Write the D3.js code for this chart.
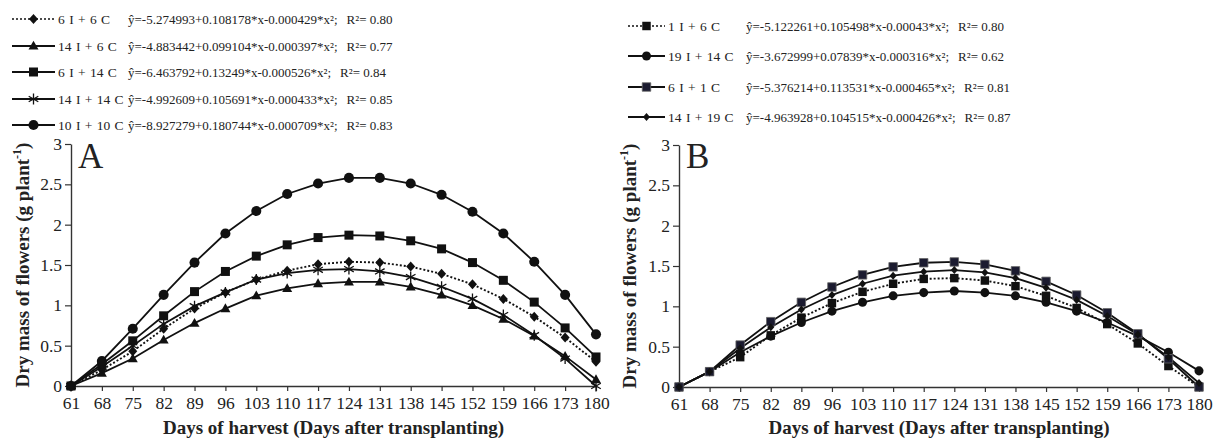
<!DOCTYPE html>
<html><head><meta charset="utf-8">
<script src="https://cdn.jsdelivr.net/npm/d3@7"></script>
<style>
html,body{margin:0;padding:0;background:#fff;}
svg{display:block;font-family:"Liberation Serif","Times New Roman",serif;}
</style></head>
<body>
<svg id="chart" width="1213" height="441"></svg>
<script>
// ---- data ----
const days = [61,68,75,82,89,96,103,110,117,124,131,138,145,152,159,166,173,180];
const yTicks = [0,0.5,1,1.5,2,2.5,3];
const yTickLabels = ["0","0.5","1","1.5","2","2.5","3"];

// Panel A
const seriesANames = ["6 I + 6 C","14 I + 6 C","6 I + 14 C","14 I + 14 C","10 I + 10 C"];
const seriesAEq = [
  "ŷ=-5.274993+0.108178*x-0.000429*x²;",
  "ŷ=-4.883442+0.099104*x-0.000397*x²;",
  "ŷ=-6.463792+0.13249*x-0.000526*x²;",
  "ŷ=-4.992609+0.105691*x-0.000433*x²;",
  "ŷ=-8.927279+0.180744*x-0.000709*x²;"
];
const seriesAR2 = ["R²= 0.80","R²= 0.77","R²= 0.84","R²= 0.85","R²= 0.83"];
const a_6I6C   = [0,0.20,0.43,0.71,0.96,1.16,1.32,1.43,1.51,1.54,1.53,1.48,1.39,1.26,1.08,0.86,0.60,0.30];
const a_14I6C  = [0,0.16,0.34,0.57,0.78,0.96,1.12,1.21,1.27,1.29,1.29,1.23,1.13,1.00,0.83,0.62,0.37,0.08];
const a_6I14C  = [0,0.27,0.56,0.87,1.17,1.42,1.61,1.75,1.84,1.87,1.86,1.80,1.70,1.53,1.31,1.04,0.72,0.36];
const a_14I14C = [0,0.24,0.50,0.77,0.99,1.16,1.32,1.40,1.44,1.45,1.42,1.35,1.23,1.08,0.88,0.63,0.34,0.00];
const a_10I10C = [0,0.31,0.71,1.13,1.53,1.89,2.17,2.38,2.51,2.58,2.58,2.51,2.37,2.16,1.89,1.54,1.13,0.64];

// Panel B
const seriesBNames = ["1 I + 6 C","19 I + 14 C","6 I + 1 C","14 I + 19 C"];
const seriesBEq = [
  "ŷ=-5.122261+0.105498*x-0.00043*x²;",
  "ŷ=-3.672999+0.07839*x-0.000316*x²;",
  "ŷ=-5.376214+0.113531*x-0.000465*x²;",
  "ŷ=-4.963928+0.104515*x-0.000426*x²;"
];
const seriesBR2 = ["R²= 0.80","R²= 0.62","R²= 0.81","R²= 0.87"];
const b_1I6C   = [0,0.19,0.37,0.64,0.86,1.04,1.18,1.28,1.34,1.35,1.32,1.25,1.13,0.98,0.78,0.54,0.26,0.00];
const b_19I14C = [0,0.19,0.43,0.63,0.80,0.94,1.05,1.13,1.17,1.19,1.17,1.13,1.05,0.94,0.80,0.63,0.43,0.20];
const b_6I1C   = [0,0.19,0.52,0.81,1.05,1.24,1.39,1.49,1.54,1.55,1.52,1.44,1.31,1.14,0.92,0.66,0.35,0.00];
const b_14I19C = [0,0.19,0.48,0.74,0.96,1.14,1.28,1.38,1.43,1.45,1.42,1.35,1.23,1.08,0.88,0.65,0.37,0.05];

const xTitle = "Days of harvest (Days after transplanting)";

// ---- drawing ----
const svg = d3.select("#chart");
const ink = "#111";

function markerPath(type){
  switch(type){
    case "circle": return d3.symbol(d3.symbolCircle, 80)();
    case "circleS": return d3.symbol(d3.symbolCircle, 64)();
    case "square": return d3.symbol(d3.symbolSquare, 81)();
    case "squareS": return d3.symbol(d3.symbolSquare, 72)();
    case "triangle": return "M0,-5.2L5,3.6L-5,3.6Z";
    case "diamond": return "M0,-5L4.5,0L0,5L-4.5,0Z";
    case "diamondS": return "M0,-4L3.5,0L0,4L-3.5,0Z";
    case "star": return "M0,-5.5L0,5.5M-4.8,-2.8L4.8,2.8M-4.8,2.8L4.8,-2.8";
  }
}
function drawMarker(g, type, x, y, fill, stroke){
  const p = g.append("path").attr("d", markerPath(type)).attr("transform", `translate(${x},${y})`);
  if(type === "star") p.attr("fill","none").attr("stroke", ink).attr("stroke-width",1.3);
  else p.attr("fill", fill || ink).attr("stroke", stroke || "none").attr("stroke-width", stroke ? 0.8 : 0);
}

function panel(opts){
  const {xRange, yRange, series, letter, letterX, yTitleX} = opts;
  const x = d3.scaleLinear().domain([61,180]).range(xRange);
  const y = d3.scaleLinear().domain([0,3]).range(yRange);
  const g = svg.append("g");

  // y axis
  const yAxis = d3.axisLeft(y).tickValues(yTicks).tickFormat((d,i)=>yTickLabels[i]).tickSize(6).tickSizeOuter(0).tickPadding(3);
  const ya = g.append("g").attr("transform", `translate(${xRange[0]},0)`).call(yAxis);
  ya.select(".domain").attr("stroke","#333").attr("stroke-width",1.4);
  ya.selectAll(".tick line").attr("stroke","#333").attr("stroke-width",1.2);
  ya.selectAll("text").attr("font-size",17.5).attr("fill","#222").attr("font-family","Liberation Serif");

  // x axis
  const xAxis = d3.axisBottom(x).tickValues(days).tickFormat(d3.format("d")).tickSize(5).tickSizeOuter(0).tickPadding(6);
  const xa = g.append("g").attr("transform", `translate(0,${yRange[0]})`).call(xAxis);
  xa.select(".domain").attr("stroke","#333").attr("stroke-width",1.4);
  xa.selectAll(".tick line").attr("stroke","#333").attr("stroke-width",1.2);
  xa.selectAll("text").attr("font-size",17.5).attr("fill","#222").attr("font-family","Liberation Serif");

  // titles
  g.append("text").attr("x", (xRange[0]+xRange[1])/2).attr("y", 434)
    .attr("text-anchor","middle").attr("font-size",19).attr("font-weight","bold").attr("fill","#222").text(xTitle);
  const yt = g.append("text").attr("transform", `translate(${yTitleX},${(yRange[0]+yRange[1])/2}) rotate(-90)`)
    .attr("text-anchor","middle").attr("font-size",19).attr("font-weight","bold").attr("fill","#222");
  yt.append("tspan").text("Dry mass of flowers (g plant");
  yt.append("tspan").attr("font-size",12).attr("dy",-8).text("-1");
  yt.append("tspan").attr("dy",8).text(")");

  g.append("text").attr("x", letterX).attr("y", 168).attr("font-size",35).attr("fill","#222").text(letter);

  // series
  const line = d3.line().x((d,i)=>x(days[i])).y(d=>y(d));
  series.forEach(s=>{
    g.append("path").datum(s.values).attr("d", line).attr("fill","none")
      .attr("stroke", ink).attr("stroke-width", s.dotted ? 1.9 : 1.8)
      .attr("stroke-dasharray", s.dotted ? "2,2" : null);
  });
  series.forEach(s=>{
    s.values.forEach((v,i)=> drawMarker(g, s.marker, x(days[i]), y(v), s.fill, s.stroke));
  });
}

function legend(opts){
  const {names, eqs, r2s, series, rowsY, lineX0, lineX1, labelX, eqX} = opts;
  const g = svg.append("g").attr("font-size",13).attr("fill","#222");
  names.forEach((n,i)=>{
    const yy = rowsY[i];
    const s = series[i];
    g.append("line").attr("x1",lineX0).attr("x2",lineX1).attr("y1",yy).attr("y2",yy)
      .attr("stroke",ink).attr("stroke-width", s.dotted ? 1.6 : 1.8)
      .attr("stroke-dasharray", s.dotted ? "2,2" : null);
    drawMarker(g, s.marker, (lineX0+lineX1)/2, yy, s.fill, s.stroke);
    const lab = g.append("text").attr("x",labelX).attr("y",yy+4.5).attr("font-size",13.5)
      .attr("word-spacing",1).text(n);
    const lw = lab.node().getComputedTextLength();
    const ex = Math.max(eqX, labelX + lw + 4);
    const eq = g.append("text").attr("x", ex).attr("y", yy+4.5).text(eqs[i]);
    const ew = eq.node().getComputedTextLength();
    g.append("text").attr("x", ex + ew + 9).attr("y", yy+4.5).text(r2s[i]);
  });
}

const seriesA = [
  {values:a_6I6C, marker:"diamond", dotted:true},
  {values:a_14I6C, marker:"triangle"},
  {values:a_6I14C, marker:"square"},
  {values:a_14I14C, marker:"star"},
  {values:a_10I10C, marker:"circle"}
];
const seriesB = [
  {values:b_1I6C, marker:"squareS", dotted:true},
  {values:b_19I14C, marker:"circleS"},
  {values:b_6I1C, marker:"squareS", fill:"#1b1b30", stroke:"#666"},
  {values:b_14I19C, marker:"diamondS"}
];

panel({xRange:[71,596], yRange:[386,144], series:seriesA, letter:"A", letterX:78, yTitleX:29});
panel({xRange:[679,1199], yRange:[387,145], series:seriesB, letter:"B", letterX:686, yTitleX:636});

legend({names:seriesANames, eqs:seriesAEq, r2s:seriesAR2, series:seriesA,
  rowsY:[19,46,72,99,125], lineX0:12, lineX1:55, labelX:58, eqX:128});
legend({names:seriesBNames, eqs:seriesBEq, r2s:seriesBR2, series:seriesB,
  rowsY:[26,56,87,117], lineX0:628, lineX1:665, labelX:668, eqX:746});
</script>
</body></html>
